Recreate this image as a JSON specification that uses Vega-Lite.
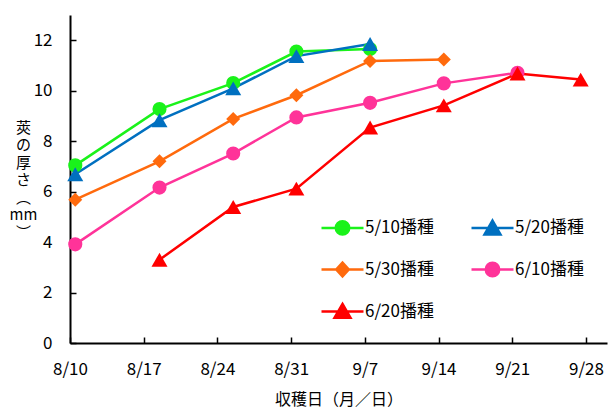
{
  "$schema": "https://vega.github.io/schema/vega-lite/v6.json",
  "width": 537,
  "height": 328,
  "autosize": {"type": "none"},
  "padding": {"left": 70, "top": 15, "right": 6, "bottom": 65},
  "config": {
    "font": "Noto Sans CJK JP",
    "view": {"stroke": null},
    "axis": {
      "domainColor": "#000",
      "domainWidth": 2,
      "tickColor": "#000",
      "tickWidth": 1.5,
      "grid": false,
      "labelColor": "#000",
      "titleColor": "#000",
      "labelFontSize": 17,
      "titleFontSize": 16,
      "titleFontWeight": "normal",
      "labelFont": "Noto Sans CJK JP",
      "titleFont": "Noto Sans CJK JP"
    }
  },
  "data": {
    "values": [
      {"s": "5/10播種", "d": "2025-08-10T12:00:00Z", "v": 7.04},
      {"s": "5/10播種", "d": "2025-08-18T12:00:00Z", "v": 9.27},
      {"s": "5/10播種", "d": "2025-08-25T12:00:00Z", "v": 10.3},
      {"s": "5/10播種", "d": "2025-08-31T12:00:00Z", "v": 11.55},
      {"s": "5/10播種", "d": "2025-09-07T12:00:00Z", "v": 11.65},
      {"s": "5/20播種", "d": "2025-08-10T12:00:00Z", "v": 6.69},
      {"s": "5/20播種", "d": "2025-08-18T12:00:00Z", "v": 8.83},
      {"s": "5/20播種", "d": "2025-08-25T12:00:00Z", "v": 10.09},
      {"s": "5/20播種", "d": "2025-08-31T12:00:00Z", "v": 11.37},
      {"s": "5/20播種", "d": "2025-09-07T12:00:00Z", "v": 11.85},
      {"s": "5/30播種", "d": "2025-08-10T12:00:00Z", "v": 5.68},
      {"s": "5/30播種", "d": "2025-08-18T12:00:00Z", "v": 7.2},
      {"s": "5/30播種", "d": "2025-08-25T12:00:00Z", "v": 8.88},
      {"s": "5/30播種", "d": "2025-08-31T12:00:00Z", "v": 9.82},
      {"s": "5/30播種", "d": "2025-09-07T12:00:00Z", "v": 11.18},
      {"s": "5/30播種", "d": "2025-09-14T12:00:00Z", "v": 11.24},
      {"s": "6/10播種", "d": "2025-08-10T12:00:00Z", "v": 3.91},
      {"s": "6/10播種", "d": "2025-08-18T12:00:00Z", "v": 6.16},
      {"s": "6/10播種", "d": "2025-08-25T12:00:00Z", "v": 7.51},
      {"s": "6/10播種", "d": "2025-08-31T12:00:00Z", "v": 8.94},
      {"s": "6/10播種", "d": "2025-09-07T12:00:00Z", "v": 9.52},
      {"s": "6/10播種", "d": "2025-09-14T12:00:00Z", "v": 10.29},
      {"s": "6/10播種", "d": "2025-09-21T12:00:00Z", "v": 10.71},
      {"s": "6/20播種", "d": "2025-08-18T12:00:00Z", "v": 3.3},
      {"s": "6/20播種", "d": "2025-08-25T12:00:00Z", "v": 5.39},
      {"s": "6/20播種", "d": "2025-08-31T12:00:00Z", "v": 6.12},
      {"s": "6/20播種", "d": "2025-09-07T12:00:00Z", "v": 8.54},
      {"s": "6/20播種", "d": "2025-09-14T12:00:00Z", "v": 9.42},
      {"s": "6/20播種", "d": "2025-09-21T12:00:00Z", "v": 10.68},
      {"s": "6/20播種", "d": "2025-09-27T12:00:00Z", "v": 10.44}
    ]
  },
  "encoding": {
    "x": {
      "field": "d",
      "type": "temporal",
      "scale": {
        "type": "utc",
        "domain": [
          {"year": 2025, "month": 8, "date": 10, "utc": true},
          {"year": 2025, "month": 9, "date": 30, "utc": true}
        ]
      },
      "axis": {
        "title": "収穫日（月／日）",
        "labelExpr": "utcFormat(datum.value, '%-m/%-d')",
        "values": [
          {"year": 2025, "month": 8, "date": 10, "utc": true},
          {"year": 2025, "month": 8, "date": 17, "utc": true},
          {"year": 2025, "month": 8, "date": 24, "utc": true},
          {"year": 2025, "month": 8, "date": 31, "utc": true},
          {"year": 2025, "month": 9, "date": 7, "utc": true},
          {"year": 2025, "month": 9, "date": 14, "utc": true},
          {"year": 2025, "month": 9, "date": 21, "utc": true},
          {"year": 2025, "month": 9, "date": 28, "utc": true}
        ],
        "tickSize": -6,
        "labelPadding": 24,
        "labelDx": 5,
        "labelFlush": false,
        "labelOverlap": false,
        "titleBaseline": "middle",
        "titleY": 56
      }
    },
    "y": {
      "field": "v",
      "type": "quantitative",
      "scale": {"domain": [0, 13], "nice": false},
      "axis": {
        "values": [0, 2, 4, 6, 8, 10, 12],
        "tickSize": -6,
        "labelPadding": 24,
        "title": ["莢", "の", "厚", "さ", "︵", "mm", "︶"],
        "titleFontSize": 15,
        "titleAngle": 0,
        "titleAlign": "center",
        "titleBaseline": "top",
        "titleX": -47,
        "titleY": 105,
        "titleLineHeight": 17.5
      }
    },
    "color": {
      "field": "s",
      "type": "nominal",
      "scale": {
        "domain": ["5/10播種", "5/20播種", "5/30播種", "6/10播種", "6/20播種"],
        "range": ["#1AF21A", "#0070C0", "#FF6A0D", "#FF3399", "#FF0000"]
      },
      "legend": {
        "orient": "none",
        "legendX": 250,
        "legendY": 190,
        "direction": "horizontal",
        "columns": 2,
        "title": null,
        "padding": 0,
        "symbolSize": 1764,
        "symbolStrokeWidth": 2.5,
        "labelFontSize": 17,
        "labelColor": "#000",
        "labelOffset": 0,
        "labelLimit": 200,
        "columnPadding": 32,
        "rowPadding": 7,
        "encode": {
          "symbols": {
            "update": {
              "shape": {"signal": "['M-1,0L1,0M0.32,0A0.32,0.32 0 1,1 -0.32,0A0.32,0.32 0 1,1 0.32,0Z','M-1,0L1,0M0,-0.36L0.38,0.3L-0.38,0.3Z','M-1,0L1,0M0,-0.33L0.3,0L0,0.33L-0.3,0Z','M-1,0L1,0M0.32,0A0.32,0.32 0 1,1 -0.32,0A0.32,0.32 0 1,1 0.32,0Z','M-1,0L1,0M0,-0.36L0.38,0.3L-0.38,0.3Z'][indexof(['5/10播種','5/20播種','5/30播種','6/10播種','6/20播種'], datum.value)]"},
              "size": {"value": 1764},
              "fill": {"scale": "color", "field": "value"},
              "stroke": {"scale": "color", "field": "value"},
              "strokeWidth": {"value": 2.5},
              "opacity": {"value": 1},
              "fillOpacity": {"value": 1}
            }
          }
        }
      }
    }
  },
  "layer": [
    {
      "mark": {"type": "line", "strokeWidth": 2.5}
    },
    {
      "transform": [{"filter": {"field": "s", "oneOf": ["5/10播種", "6/10播種"]}}],
      "mark": {"type": "point", "filled": true, "opacity": 1, "shape": "circle", "size": 200}
    },
    {
      "transform": [{"filter": {"field": "s", "oneOf": ["5/30播種"]}}],
      "mark": {"type": "point", "filled": true, "opacity": 1, "shape": "diamond", "size": 196}
    },
    {
      "transform": [{"filter": {"field": "s", "oneOf": ["5/20播種", "6/20播種"]}}],
      "mark": {"type": "point", "filled": true, "opacity": 1, "shape": "triangle-up", "size": 256}
    }
  ]
}
